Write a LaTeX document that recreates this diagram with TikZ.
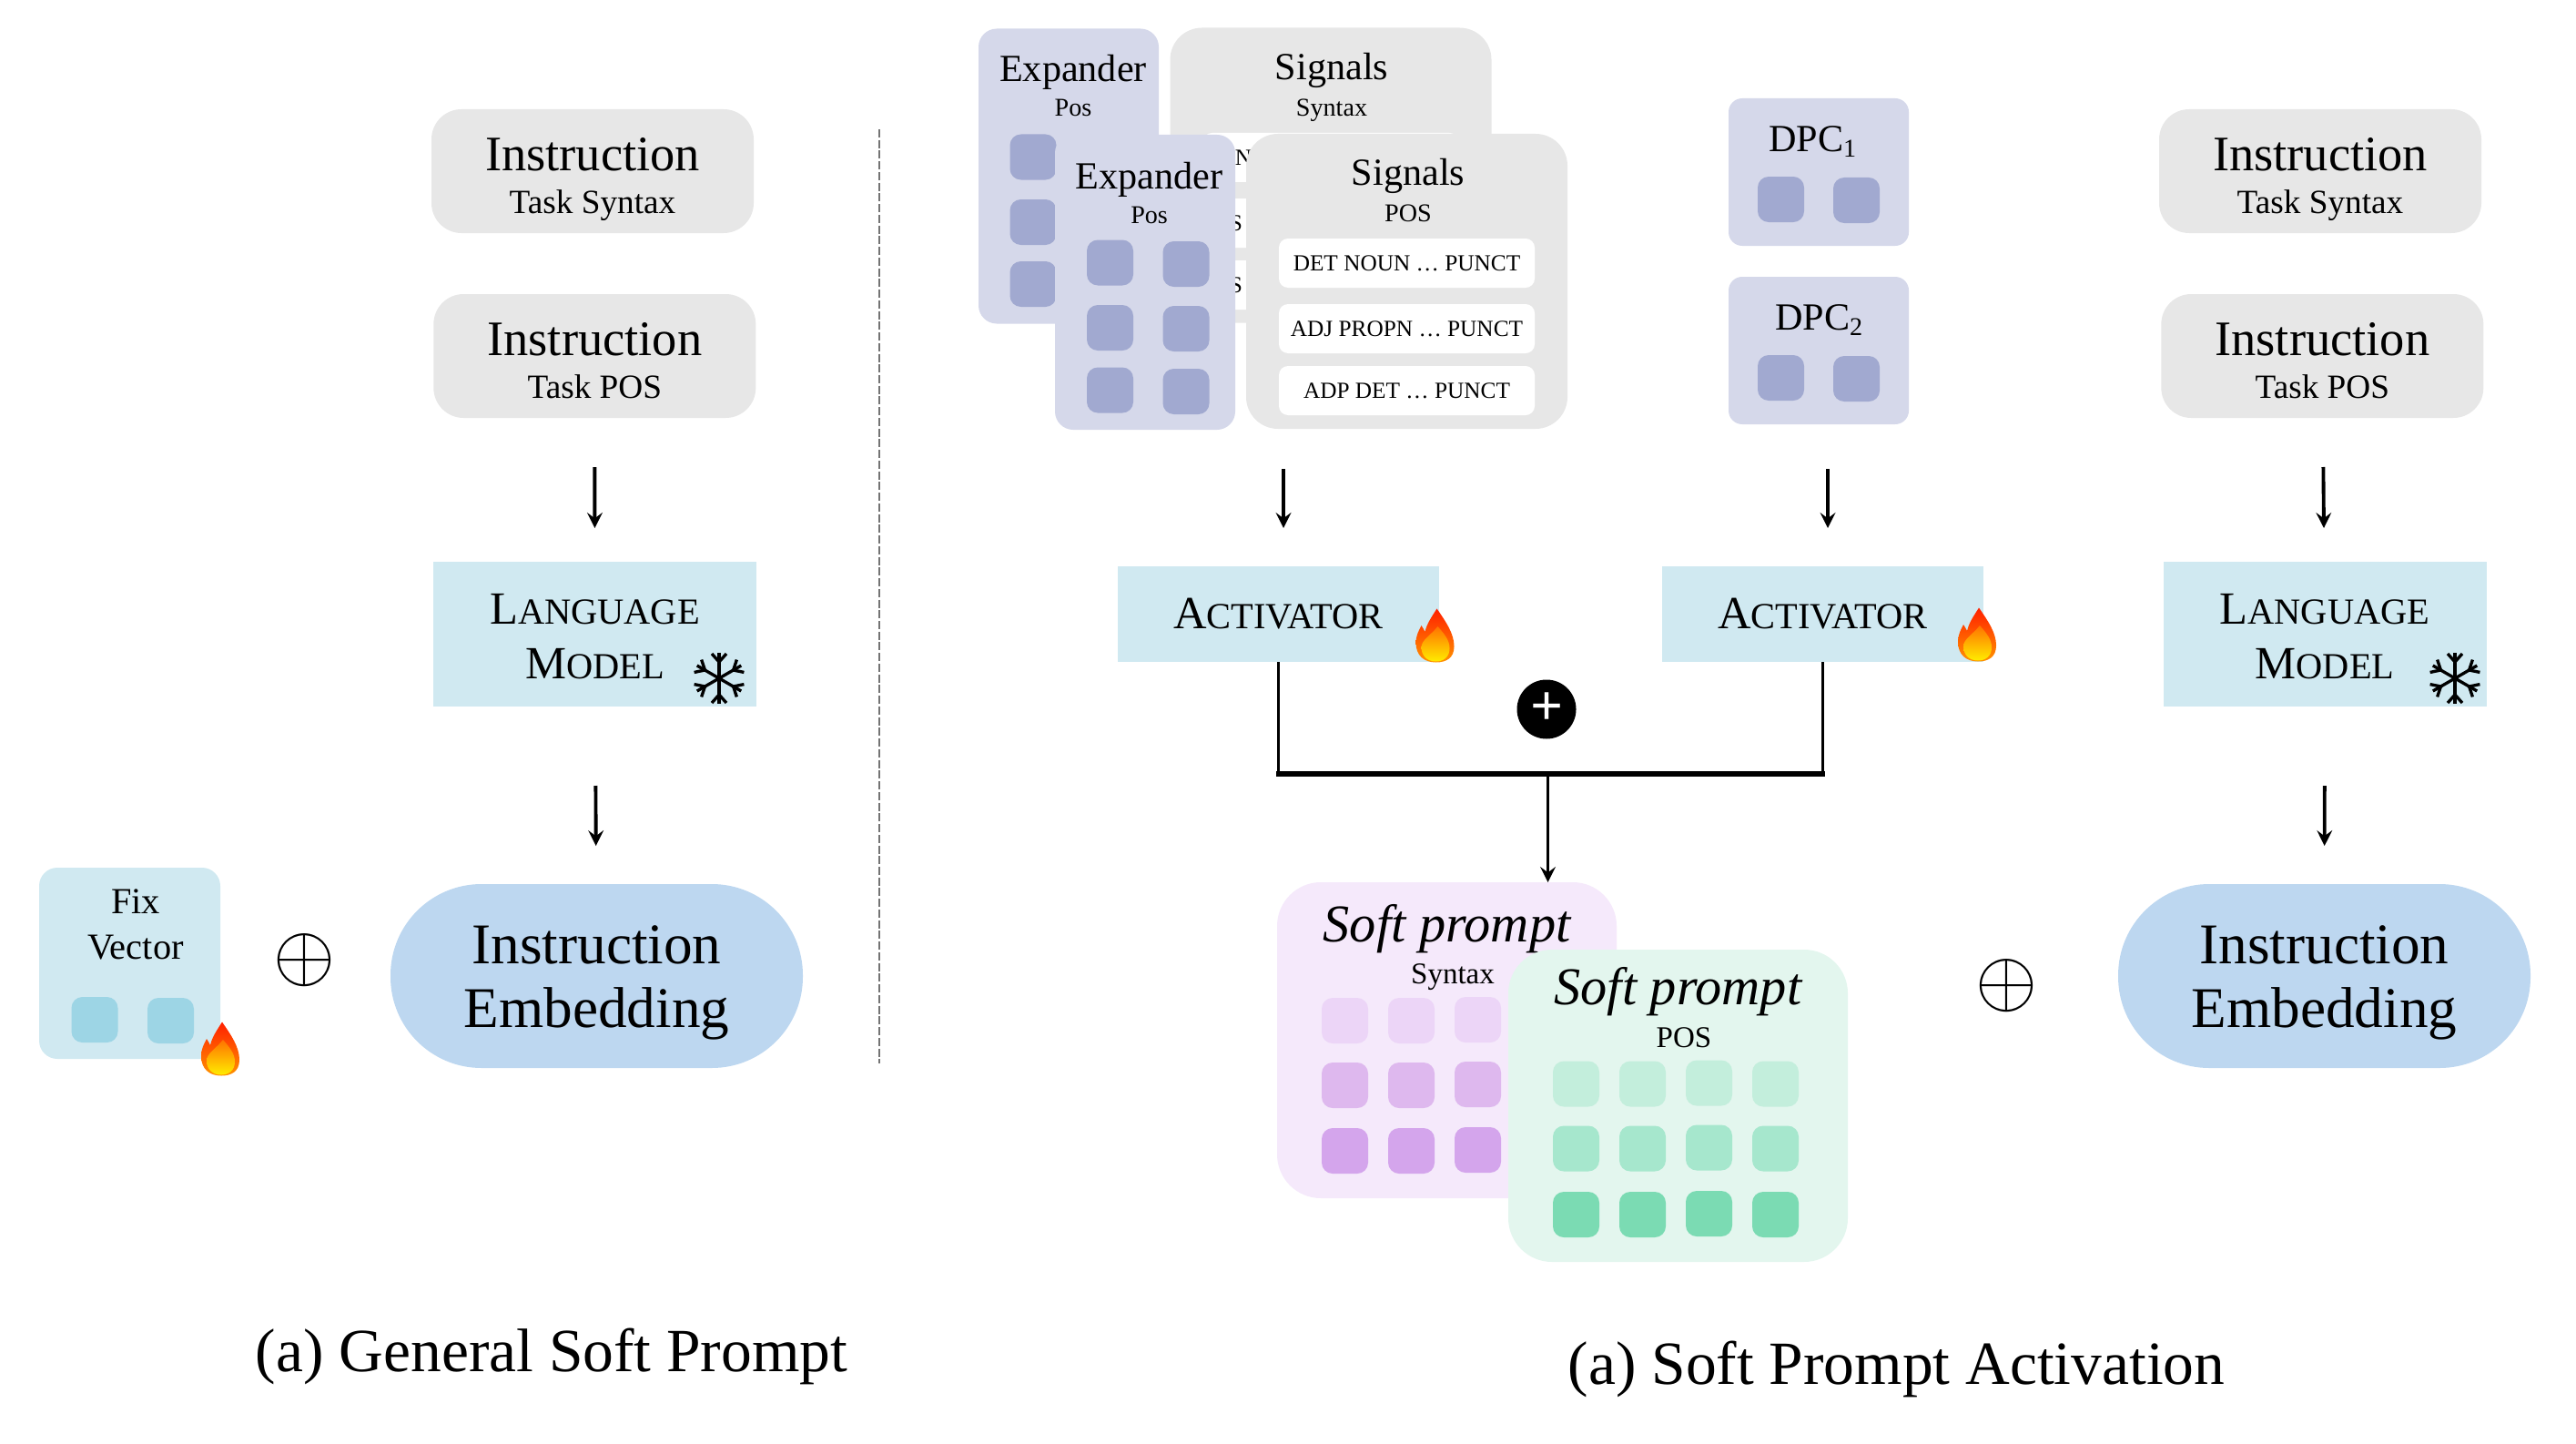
\documentclass[tikz,border=0pt]{standalone}
\usepackage{fontspec}
\setmainfont{Liberation Serif}

\definecolor{cGray}{HTML}{E7E7E7}
\definecolor{cLight}{HTML}{D0E9F1}
\definecolor{cLightTile}{HTML}{9DD5E5}
\definecolor{cExp}{HTML}{D5D8EA}
\definecolor{cExpTile}{HTML}{A1A9D0}
\definecolor{cEmb}{HTML}{BDD7F0}
\definecolor{cPur}{HTML}{F5E9FB}
\definecolor{cPurA}{HTML}{ECD5F7}
\definecolor{cPurB}{HTML}{DEB8EE}
\definecolor{cPurC}{HTML}{D4A5EC}
\definecolor{cGrn}{HTML}{E3F6EE}
\definecolor{cGrnA}{HTML}{C3EEDC}
\definecolor{cGrnB}{HTML}{A6E7CD}
\definecolor{cGrnC}{HTML}{7BDBB3}

\newcommand{\fakesc}[2]{#1{\fontsize{11.5}{17}\selectfont #2}}

\tikzset{
	panel/.style={inner sep=0pt, outer sep=0pt, align=center},
	instrbox/.style={panel, fill=cGray, rounded corners=.33cm, minimum width=3.54cm, minimum height=1.36cm,
		font=\fontsize{15.5}{13.4}\selectfont, text height=1.01cm, text depth=.08cm},
	langbox/.style={panel, fill=cLight, minimum width=3.55cm, minimum height=1.59cm,
		font=\fontsize{14.4}{17}\selectfont, text height=.97cm, text depth=0cm},
	actbox/.style={panel, fill=cLight, minimum width=3.53cm, minimum height=1.05cm, font=\fontsize{14.4}{17}\selectfont},
	embbox/.style={panel, fill=cEmb, rounded corners=1cm, minimum width=4.53cm, minimum height=2.02cm,
		font=\fontsize{18}{19.9}\selectfont, text height=1.26cm, text depth=.14cm},
	expbox/.style={panel, fill=cExp, rounded corners=.2cm, minimum width=1.98cm, minimum height=3.24cm},
	sigbox/.style={panel, fill=cGray, rounded corners=.35cm, minimum width=3.53cm, minimum height=3.24cm},
	dpcbox/.style={panel, fill=cExp, rounded corners=.15cm, minimum width=1.98cm, minimum height=1.62cm},
	softbox/.style={panel, fill=#1, rounded corners=.48cm, minimum width=3.73cm},
	rowbox/.style={panel, fill=white, rounded corners=.1cm, minimum width=2.81cm, minimum height=.54cm,
		font=\fontsize{7.2}{9}\selectfont},
	tile/.style={fill=#1, inner sep=0pt, outer sep=0pt, rounded corners=.12cm, minimum width=.51cm, minimum height=.5cm},
	title/.style={anchor=base, inner sep=0pt, font=\fontsize{12}{14}\selectfont},
	subtitle/.style={anchor=base, inner sep=0pt, font=\fontsize{8}{10}\selectfont},
	caption/.style={anchor=base, inner sep=0pt, font=\fontsize{19.2}{23}\selectfont},
	flowarrow/.style={-stealth, line width=1.1pt},
	flame/.pic={
		\shade[top color=red!75!orange, bottom color=orange!85!yellow]
			(.02,.295) .. controls (.12,.15) and (.21,.02) .. (.21,-.12)
			.. controls (.21,-.25) and (.12,-.295) .. (.01,-.295)
			.. controls (-.12,-.295) and (-.21,-.22) .. (-.21,-.08)
			.. controls (-.21,0) and (-.18,.05) .. (-.15,.11)
			.. controls (-.13,.08) and (-.12,.06) .. (-.11,.04)
			.. controls (-.09,.13) and (-.04,.2) .. (.02,.295) -- cycle;
		\shade[top color=orange!90!red, bottom color=yellow!85!orange]
			(.03,.1) .. controls (.1,.02) and (.16,-.05) .. (.16,-.14)
			.. controls (.16,-.24) and (.09,-.285) .. (.01,-.285)
			.. controls (-.09,-.285) and (-.15,-.22) .. (-.15,-.13)
			.. controls (-.15,-.05) and (-.05,0) .. (.03,.1) -- cycle;
	},
	snowflake/.pic={
		\foreach \a in {90,150,210,270,330,30}{
			\draw[line width=.95pt, rotate=\a] (0,0) -- (.28,0);
			\draw[line width=.95pt, rotate=\a] (.27,.08) -- (.18,0) -- (.27,-.08);
		}
	}
}

\begin{document}
\begin{tikzpicture}
	\useasboundingbox (0,0) rectangle (28.30,-15.85);

	%%%%% Left part %%%%%%
	\node[instrbox] (nodeInstrA) at (6.51,-1.88){Instruction\\{\fontsize{10.6}{13.4}\selectfont Task Syntax}};
	\node[instrbox] (nodeInstrB) at (6.533,-3.91){Instruction\\{\fontsize{10.6}{13.4}\selectfont Task POS}};
	\node[langbox] (nodeLangA) at (6.535,-6.965){\fakesc{L}{ANGUAGE}\\\fakesc{M}{ODEL}};
	\node[embbox] (nodeEmbA) at (6.555,-10.72){Instruction\\Embedding};
	\pic at (7.90,-7.45) {snowflake};

	\node[panel, fill=cLight, rounded corners=.2cm, minimum width=1.99cm, minimum height=2.10cm] (nodeFix) at (1.425,-10.58){};
	\node[title, font=\fontsize{11.5}{14}\selectfont] (nodeFixA) at (1.49,-10.03){Fix};
	\node[title, font=\fontsize{11.5}{14}\selectfont] (nodeFixB) at (1.49,-10.53){Vector};
	\node[tile=cLightTile] (tileFixA) at (1.04,-11.20){};
	\node[tile=cLightTile] (tileFixB) at (1.875,-11.21){};
	\pic at (2.42,-11.52) {flame};
	\node[font=\fontsize{24}{24}\selectfont, inner sep=0pt] (nodePlusA) at (3.34,-10.55){$\oplus$};

	\draw[flowarrow, shorten <=.54cm, shorten >=.37cm] (nodeInstrB) -- (nodeLangA);
	\draw[flowarrow, shorten <=.87cm, shorten >=.42cm] (nodeLangA) -- (nodeEmbA);

	\coordinate (sepTop) at (9.66,-1.42);
	\coordinate (sepBot) at (9.66,-11.68);
	\draw[dash pattern=on 2.56pt off .78pt, line width=.55pt, black!55] (sepTop)--(sepBot);

	%%%%% Expander and Signals, back %%%%%%
	\node[expbox] (nodeExpB) at (11.74,-1.935){};
	\node[title] (nodeExpBT) at (11.79,-.90){Expander};
	\node[subtitle] (nodeExpBS) at (11.79,-1.28){Pos};
	\node[tile=cExpTile] (tileExpB1) at (11.35,-1.725){};
	\node[tile=cExpTile] (tileExpB2) at (11.35,-2.44){};
	\node[tile=cExpTile] (tileExpB3) at (11.35,-3.12){};

	\node[sigbox] (nodeSigB) at (14.62,-1.925){};
	\node[title] (nodeSigBT) at (14.63,-.88){Signals};
	\node[subtitle] (nodeSigBS) at (14.63,-1.27){Syntax};
	\node[rowbox] (rowSigB1) at (14.62,-1.73){};
	\node[rowbox] (rowSigB2) at (14.62,-2.45){};
	\node[rowbox] (rowSigB3) at (14.62,-3.13){};
	\node[font=\fontsize{7.2}{9}\selectfont, inner sep=0pt] (txtSigB1) at (13.66,-1.73){N};
	\node[font=\fontsize{7.2}{9}\selectfont, inner sep=0pt] (txtSigB2) at (13.58,-2.45){S};
	\node[font=\fontsize{7.2}{9}\selectfont, inner sep=0pt] (txtSigB3) at (13.58,-3.13){S};

	%%%%% Expander and Signals, front %%%%%%
	\node[expbox] (nodeExpF) at (12.58,-3.10){};
	\node[title] (nodeExpFT) at (12.626,-2.07){Expander};
	\node[subtitle] (nodeExpFS) at (12.626,-2.45){Pos};
	\node[tile=cExpTile] (tileExpF1) at (12.195,-2.885){};
	\node[tile=cExpTile] (tileExpF2) at (13.03,-2.90){};
	\node[tile=cExpTile] (tileExpF3) at (12.195,-3.60){};
	\node[tile=cExpTile] (tileExpF4) at (13.03,-3.61){};
	\node[tile=cExpTile] (tileExpF5) at (12.195,-4.285){};
	\node[tile=cExpTile] (tileExpF6) at (13.03,-4.30){};

	\node[sigbox] (nodeSigF) at (15.455,-3.09){};
	\node[title] (nodeSigFT) at (15.47,-2.04){Signals};
	\node[subtitle] (nodeSigFS) at (15.47,-2.43){POS};
	\node[rowbox] (rowSigF1) at (15.455,-2.89){DET NOUN … PUNCT};
	\node[rowbox] (rowSigF2) at (15.455,-3.61){ADJ PROPN … PUNCT};
	\node[rowbox] (rowSigF3) at (15.455,-4.29){ADP DET … PUNCT};

	%%%%% DPC %%%%%%
	\node[dpcbox] (nodeDpcA) at (19.98,-1.89){};
	\node[title] (nodeDpcAT) at (19.92,-1.66){DPC\textsubscript{1}};
	\node[tile=cExpTile] (tileDpcA1) at (19.565,-2.19){};
	\node[tile=cExpTile] (tileDpcA2) at (20.395,-2.20){};
	\node[dpcbox] (nodeDpcB) at (19.98,-3.85){};
	\node[title] (nodeDpcBT) at (19.99,-3.62){DPC\textsubscript{2}};
	\node[tile=cExpTile] (tileDpcB1) at (19.565,-4.15){};
	\node[tile=cExpTile] (tileDpcB2) at (20.395,-4.16){};

	%%%%% Activators %%%%%%
	\node[actbox] (nodeActA) at (14.045,-6.745){\fakesc{A}{CTIVATOR}};
	\node[actbox] (nodeActB) at (20.025,-6.745){\fakesc{A}{CTIVATOR}};
	\pic at (15.765,-6.98) {flame};
	\pic at (21.72,-6.97) {flame};
	\node[circle, fill=black, text=white, inner sep=0pt, minimum size=.65cm, font=\fontsize{18}{18}\selectfont\bfseries] (nodeAdd) at (16.99,-7.79){+};

	\coordinate (srcA) at (14.10,-5.15);
	\draw[flowarrow, shorten >=.42cm] (srcA) -- (srcA |- nodeActA.north);
	\coordinate (srcB) at (20.08,-5.15);
	\draw[flowarrow, shorten >=.42cm] (srcB) -- (srcB |- nodeActB.north);

	%%%%% Soft prompts %%%%%%
	\node[softbox=cPur, minimum height=3.47cm] (nodeSoftA) at (15.895,-11.425){};
	\node[title, font=\fontsize{16.6}{20}\selectfont\itshape] (nodeSoftAT) at (15.895,-10.34){Soft prompt};
	\node[subtitle, font=\fontsize{9.4}{11}\selectfont] (nodeSoftAS) at (15.96,-10.80){Syntax};
	\node[tile=cPurA] (tilePurA1) at (14.775,-11.21){};
	\node[tile=cPurA] (tilePurA2) at (15.505,-11.21){};
	\node[tile=cPurA] (tilePurA3) at (16.235,-11.20){};
	\node[tile=cPurB] (tilePurB1) at (14.775,-11.92){};
	\node[tile=cPurB] (tilePurB2) at (15.505,-11.92){};
	\node[tile=cPurB] (tilePurB3) at (16.235,-11.91){};
	\node[tile=cPurC] (tilePurC1) at (14.775,-12.64){};
	\node[tile=cPurC] (tilePurC2) at (15.505,-12.64){};
	\node[tile=cPurC] (tilePurC3) at (16.235,-12.63){};

	\node[softbox=cGrn, minimum height=3.43cm] (nodeSoftB) at (18.435,-12.145){};
	\node[title, font=\fontsize{16.6}{20}\selectfont\itshape] (nodeSoftBT) at (18.434,-11.03){Soft prompt};
	\node[subtitle, font=\fontsize{9.4}{11}\selectfont] (nodeSoftBS) at (18.50,-11.50){POS};
	\node[tile=cGrnA] (tileGrnA1) at (17.315,-11.905){};
	\node[tile=cGrnA] (tileGrnA2) at (18.045,-11.905){};
	\node[tile=cGrnA] (tileGrnA3) at (18.775,-11.895){};
	\node[tile=cGrnA] (tileGrnA4) at (19.505,-11.905){};
	\node[tile=cGrnB] (tileGrnB1) at (17.315,-12.615){};
	\node[tile=cGrnB] (tileGrnB2) at (18.045,-12.615){};
	\node[tile=cGrnB] (tileGrnB3) at (18.775,-12.605){};
	\node[tile=cGrnB] (tileGrnB4) at (19.505,-12.615){};
	\node[tile=cGrnC] (tileGrnC1) at (17.315,-13.34){};
	\node[tile=cGrnC] (tileGrnC2) at (18.045,-13.34){};
	\node[tile=cGrnC] (tileGrnC3) at (18.775,-13.33){};
	\node[tile=cGrnC] (tileGrnC4) at (19.505,-13.34){};

	%%%%% Merge lines %%%%%%
	\coordinate (joinA) at (nodeActA.south |- 0,-8.50);
	\coordinate (joinB) at (nodeActB.south |- 0,-8.50);
	\coordinate (joinM) at (17.005,-8.50);
	\draw[line width=1pt] (nodeActA.south)--(joinA);
	\draw[line width=1pt] (nodeActB.south)--(joinB);
	\draw[line width=1.5pt, line cap=rect] (joinA)--(joinB);
	\draw[flowarrow] (joinM)--(joinM |- nodeSoftA.north);

	\node[font=\fontsize{24}{24}\selectfont, inner sep=0pt] (nodePlusB) at (22.04,-10.83){$\oplus$};

	%%%%% Right part %%%%%%
	\node[instrbox] (nodeInstrC) at (25.49,-1.88){Instruction\\{\fontsize{10.6}{13.4}\selectfont Task Syntax}};
	\node[instrbox] (nodeInstrD) at (25.513,-3.91){Instruction\\{\fontsize{10.6}{13.4}\selectfont Task POS}};
	\node[langbox] (nodeLangB) at (25.54,-6.965){\fakesc{L}{ANGUAGE}\\\fakesc{M}{ODEL}};
	\node[embbox] (nodeEmbB) at (25.535,-10.72){Instruction\\Embedding};
	\pic at (26.97,-7.45) {snowflake};
	\draw[flowarrow, shorten <=.54cm, shorten >=.37cm] (nodeInstrD) -- (nodeLangB);
	\draw[flowarrow, shorten <=.87cm, shorten >=.42cm] (nodeLangB) -- (nodeEmbB);

	%%%%% Captions %%%%%%
	\node[caption] (capA) at (6.06,-15.06){(a) General Soft Prompt};
	\node[caption] (capB) at (20.835,-15.20){(a) Soft Prompt Activation};

\end{tikzpicture}
\end{document}
